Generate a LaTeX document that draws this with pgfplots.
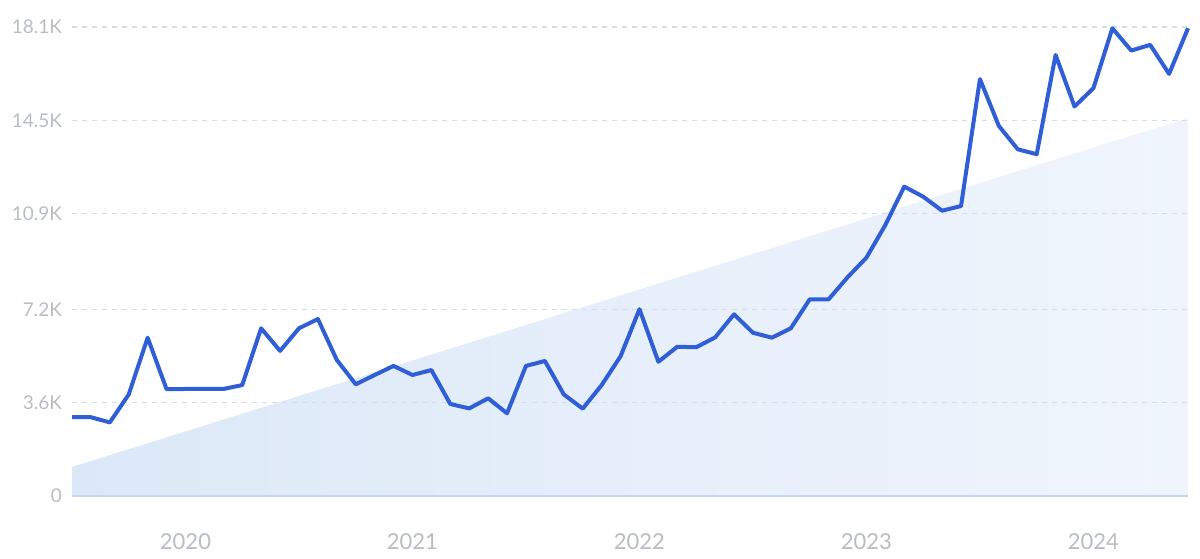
\documentclass[border=0pt]{standalone}
\usepackage{fontspec}
\setmainfont{Lato}
\usepackage{pgfplots}
\pgfplotsset{compat=1.18}
\definecolor{lineblue}{HTML}{2F5ED6}
\definecolor{gridc}{HTML}{D3DDEB}
\definecolor{tickc}{HTML}{B8BCC3}
\definecolor{fillL}{HTML}{DCE8F8}
\definecolor{fillR}{HTML}{F0F5FC}
\definecolor{basec}{HTML}{C6D8F1}
\begin{document}
\begin{tikzpicture}
\begin{axis}[
  set layers,
  scale only axis,
  width=558pt, height=234.5pt,
  xmin=0, xmax=59, ymin=0, ymax=18.1,
  axis line style={draw=none},
  clip=false,
  xtick={6,18,30,42,54},
  xticklabels={2020,2021,2022,2023,2024},
  ytick={0,3.6,7.2,10.9,14.5,18.1},
  yticklabels={0,3.6K,7.2K,10.9K,14.5K,18.1K},
  major tick length=0pt,
  tick style={draw=none},
  tick label style={text=tickc},
  yticklabel style={font=\fontsize{9.5}{11}\selectfont, xshift=-1.5pt},
  xticklabel style={font=\fontsize{11}{12}\selectfont, yshift=-15pt},
  /pgf/number format/assume math mode=true,
]
% trend area
\addplot[on layer=axis background, draw=none, left color=fillL, right color=fillR] coordinates {(0,1.12) (59,14.59)} \closedcycle;
% grid lines
\pgfplotsinvokeforeach{3.6,7.2,10.9,14.5,18.1}{
  \draw[on layer=axis grid, gridc, line width=0.6pt, dash pattern=on 2.5pt off 2.5pt] (axis cs:0,#1) -- (axis cs:59,#1);
}
\draw[on layer=axis grid, basec, line width=0.6pt] (axis cs:0,0) -- (axis cs:59,0);
\addplot[lineblue, line width=2pt, line join=round, mark=none] coordinates {
(0,3.04) (1,3.04) (2,2.84) (3,3.92) (4,6.11) (5,4.12) (6,4.13) (7,4.13) (8,4.13) (9,4.28)
(10,6.47) (11,5.60) (12,6.47) (13,6.83) (14,5.25) (15,4.31) (16,4.67) (17,5.02) (18,4.67) (19,4.86)
(20,3.55) (21,3.38) (22,3.77) (23,3.19) (24,5.02) (25,5.21) (26,3.92) (27,3.37) (28,4.28) (29,5.39)
(30,7.21) (31,5.18) (32,5.76) (33,5.74) (34,6.12) (35,7.01) (36,6.30) (37,6.11) (38,6.47) (39,7.59)
(40,7.59) (41,8.44) (42,9.20) (43,10.46) (44,11.94) (45,11.55) (46,11.01) (47,11.19) (48,16.09) (49,14.28)
(50,13.38) (51,13.19) (52,17.02) (53,15.03) (54,15.74) (55,18.05) (56,17.19) (57,17.41) (58,16.29) (59,18.05)
};
\end{axis}
\path[use as bounding box] ([xshift=-36pt,yshift=-31.5pt]current axis.south west) rectangle ([xshift=6pt,yshift=13.5pt]current axis.north east);
\end{tikzpicture}
\end{document}
